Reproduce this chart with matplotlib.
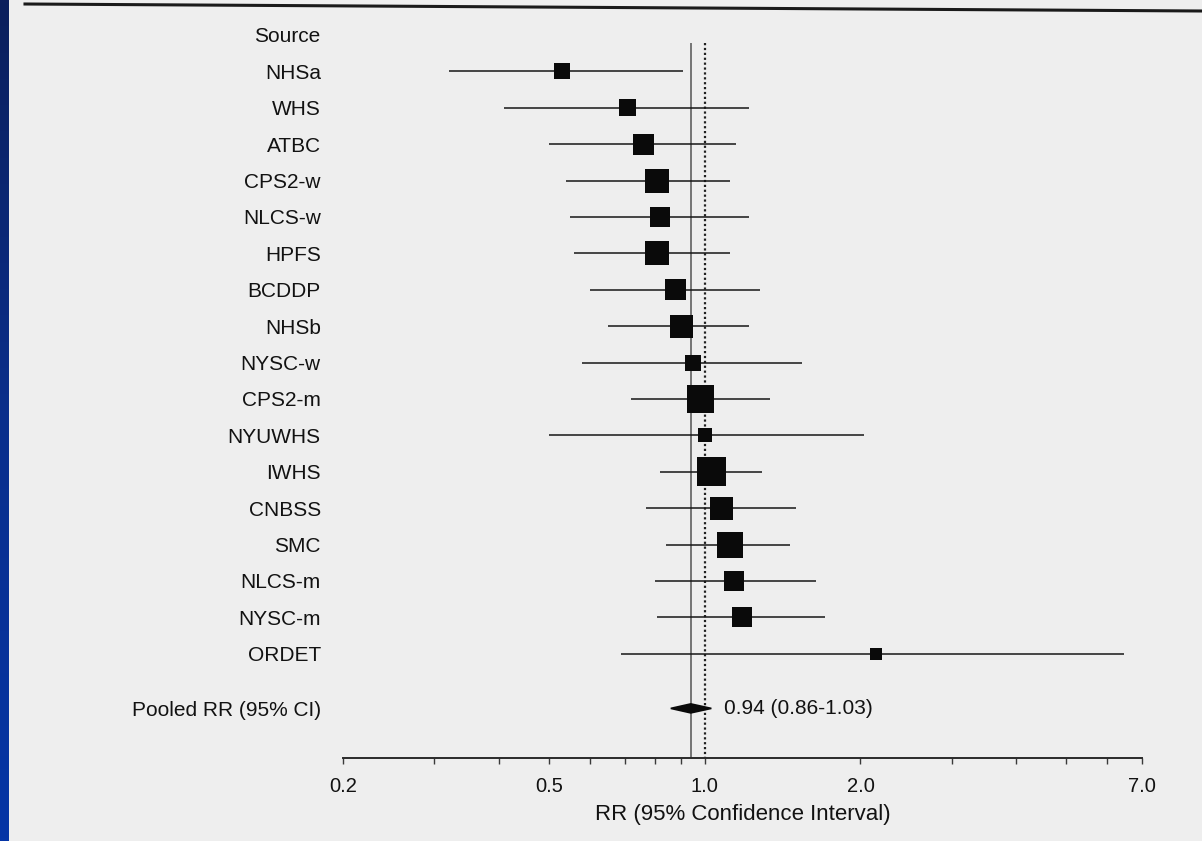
import numpy as np
import matplotlib
matplotlib.use("Agg")
import matplotlib.pyplot as plt
from matplotlib.lines import Line2D
from matplotlib.patches import Polygon
from matplotlib.ticker import FixedLocator, NullFormatter
from matplotlib.colors import LinearSegmentedColormap

# ---------------- data ----------------
studies = ["NHSa", "WHS", "ATBC", "CPS2-w", "NLCS-w", "HPFS", "BCDDP", "NHSb",
           "NYSC-w", "CPS2-m", "NYUWHS", "IWHS", "CNBSS", "SMC", "NLCS-m",
           "NYSC-m", "ORDET"]
rr = [0.53, 0.71, 0.76, 0.81, 0.82, 0.81, 0.88, 0.90, 0.95, 0.98, 1.00, 1.03,
      1.08, 1.12, 1.14, 1.18, 2.14]
ci_low = [0.32, 0.41, 0.50, 0.54, 0.55, 0.56, 0.60, 0.65, 0.58, 0.72, 0.50,
          0.82, 0.77, 0.84, 0.80, 0.81, 0.69]
ci_high = [0.91, 1.22, 1.15, 1.12, 1.22, 1.12, 1.28, 1.22, 1.54, 1.34, 2.03,
           1.29, 1.50, 1.46, 1.64, 1.71, 6.45]
weights = [2.6, 2.9, 4.4, 5.8, 4.0, 5.8, 4.4, 5.3, 2.6, 7.3, 2.0, 8.4, 5.3,
           6.8, 4.0, 4.0, 1.4]
pooled_rr = 0.94
pooled_low = 0.86
pooled_high = 1.03
header_label = "Source"
pooled_label = "Pooled RR (95% CI)"
xtick_major = [0.2, 0.5, 1.0, 2.0, 7.0]
xtick_minor = [0.3, 0.4, 0.6, 0.7, 0.8, 0.9, 3.0, 4.0, 5.0, 6.0]
xlabel = "RR (95% Confidence Interval)"

# ---------------- figure ----------------
W, H, DPI = 1202, 841, 100
fig = plt.figure(figsize=(W / DPI, H / DPI), dpi=DPI)
fig.patch.set_facecolor("#eeeeee")
plt.rcParams["font.family"] = ["Liberation Sans", "DejaVu Sans"]
txt = "#121212"

# blue border strip on the left
strip = fig.add_axes([0, 0, 9 / W, 1])
grad = np.linspace(0, 1, 256).reshape(-1, 1)
cmap = LinearSegmentedColormap.from_list("b", ["#0b1f5c", "#0a2f8c", "#0535a6"])
strip.imshow(grad, aspect="auto", cmap=cmap, extent=[0, 1, 0, 1])
strip.set_axis_off()

# top rule of the scanned page
fig.add_artist(Line2D([25 / W, 1.0], [1 - 4 / H, 1 - 11 / H],
                      transform=fig.transFigure, color="#1a1a1a", lw=2.2))

# main axes
ax_left, ax_right = 343, 1142
ax_bottom = 758
ax = fig.add_axes([ax_left / W, 1 - ax_bottom / H, (ax_right - ax_left) / W,
                   ax_bottom / H])
ax.set_facecolor("none")
ax.set_xscale("log")
ax.set_xlim(xtick_major[0], xtick_major[-1])

n = len(studies)
rows = np.arange(1, n + 1)
pooled_row = n + 1.5
row_px = 36.4
y_top = -35 / row_px
y_bot = (ax_bottom - 35) / row_px
ax.set_ylim(y_bot, y_top)

ink = "#161616"

# reference lines
line_top = 0.22
ax.vlines(pooled_rr, line_top, y_bot, color="#606060", lw=1.2, zorder=1)
ax.vlines(1.0, line_top, y_bot, color="#202020", lw=1.6,
          linestyles=[(0, (1.0, 1.2))], zorder=1)

# confidence intervals
ax.hlines(rows, ci_low, ci_high, color=ink, lw=1.1, zorder=2)
# weight boxes
side_px = np.sqrt(np.array(weights)) * 10.0
side_pt = side_px * 72 / DPI
ax.scatter(rr, rows, s=side_pt ** 2, marker="s", color="#0a0a0a",
           linewidths=0, zorder=3)

# pooled diamond
half_h = 4.5 / row_px
diamond = Polygon([[pooled_low, pooled_row], [pooled_rr, pooled_row - half_h],
                   [pooled_high, pooled_row], [pooled_rr, pooled_row + half_h]],
                  closed=True, facecolor="#0a0a0a", edgecolor="#0a0a0a",
                  lw=1.2, zorder=3)
ax.add_patch(diamond)
ax.annotate(f"{pooled_rr:.2f} ({pooled_low:.2f}-{pooled_high:.2f})",
            xy=(pooled_high, pooled_row), xytext=(9, 0),
            textcoords="offset points", ha="left", va="center",
            fontsize=15, color=txt)

# y labels
ax.set_yticks([0] + list(rows) + [pooled_row],
              [header_label] + studies + [pooled_label])
ax.tick_params(axis="y", length=0, pad=16, labelsize=15, labelcolor=txt)

# x axis
ax.xaxis.set_major_locator(FixedLocator(xtick_major))
ax.xaxis.set_minor_locator(FixedLocator(xtick_minor))
ax.set_xticklabels([f"{v:.1f}" for v in xtick_major])
ax.xaxis.set_minor_formatter(NullFormatter())
ax.tick_params(axis="x", which="both", direction="out", length=4.5,
               width=1.0, color="#3a3a3a", pad=9, labelsize=14.5,
               labelcolor=txt)
ax.set_xlabel(xlabel, fontsize=16, color=txt, labelpad=6)

for s in ["top", "right", "left"]:
    ax.spines[s].set_visible(False)
ax.spines["bottom"].set_color("#2a2a2a")
ax.spines["bottom"].set_linewidth(1.4)

fig.savefig("out.png", dpi=DPI, facecolor=fig.get_facecolor())
